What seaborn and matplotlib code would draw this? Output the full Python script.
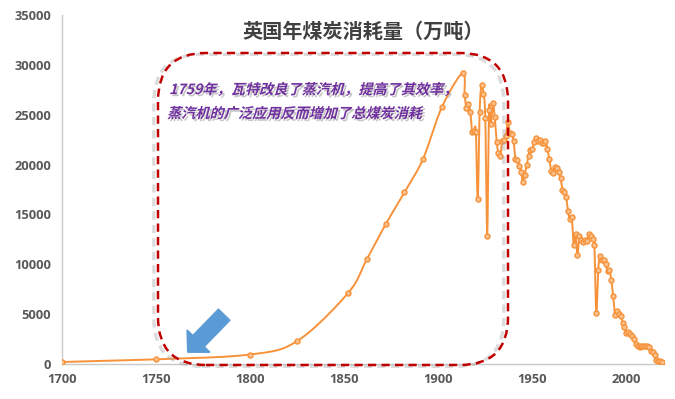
import numpy as np
import pandas as pd
import matplotlib
matplotlib.use("Agg")
import matplotlib.pyplot as plt
import seaborn as sns
from matplotlib.patches import FancyBboxPatch, FancyArrow
from matplotlib.transforms import IdentityTransform, Affine2D
from matplotlib.patheffects import AbstractPathEffect, SimplePatchShadow, SimpleLineShadow, Normal

# ---------------- data (万吨) ----------------
years_early = [1700, 1750, 1800, 1825, 1852, 1862, 1872, 1882, 1892, 1902]
values_early = [200, 470, 950, 2300, 7100, 10500, 14000, 17200, 20600, 25800]

years_annual = list(range(1913, 2020))
values_annual = [
    29200, 27000, 25700, 26100, 25300, 23300, 23400, 23300, 16500, 25300,  # 1913-1922
    28000, 27100, 24700, 12800, 25500, 24100, 26200, 24800, 22300, 21200,  # 1923-1932
    20900, 22400, 22500, 22900, 24300, 23200, 23100, 22400, 20600, 20500,  # 1933-1942
    19900, 19300, 18300, 19000, 20000, 20900, 21500, 21600, 22300, 22700,  # 1943-1952
    22400, 22500, 22200, 22200, 22400, 21600, 20600, 19400, 19200, 19800,  # 1953-1962
    19700, 19300, 18700, 17500, 17200, 16700, 15300, 14500, 14700, 11900,  # 1963-1972
    13000, 10900, 12800, 12400, 12200, 12400, 12300, 13000, 12800, 12500,  # 1973-1982
    11900, 5100, 9400, 10800, 10400, 10400, 10000, 9300, 9400, 8400,       # 1983-1992
    6800, 4900, 5300, 5000, 4800, 4100, 3700, 3100, 3200, 3000,            # 1993-2002
    2800, 2500, 2000, 1800, 1700, 1800, 1800, 1800, 1800, 1700,            # 2003-2012
    1300, 1200, 900, 400, 300, 260, 220,                                   # 2013-2019
]

x_ticks = [1700, 1750, 1800, 1850, 1900, 1950, 2000]
y_ticks = [0, 5000, 10000, 15000, 20000, 25000, 30000, 35000]

title_text = "英国年煤炭消耗量（万吨）"
note_line1 = "1759年，瓦特改良了蒸汽机，提高了其效率，"
note_line2 = "蒸汽机的广泛应用反而增加了总煤炭消耗"

years = np.array(years_early + years_annual, dtype=float)
values = np.array(values_early + values_annual, dtype=float)
df = pd.DataFrame({"year": years, "value": values})


# Excel-like smoothed line (Bezier through the points)
def smooth_curve(x, y, n=12):
    px, py = [], []
    N = len(x)
    for i in range(N - 1):
        x0, y0 = (x[i - 1], y[i - 1]) if i > 0 else (x[i], y[i])
        x1, y1 = x[i], y[i]
        x2, y2 = x[i + 1], y[i + 1]
        x3, y3 = (x[i + 2], y[i + 2]) if i + 2 < N else (x2, y2)
        c1x, c1y = x1 + (x2 - x0) / 6, y1 + (y2 - y0) / 6
        c2x, c2y = x2 - (x3 - x1) / 6, y2 - (y3 - y1) / 6
        t = np.linspace(0, 1, n, endpoint=(i == N - 2))
        b0, b1, b2, b3 = (1 - t) ** 3, 3 * (1 - t) ** 2 * t, 3 * (1 - t) * t ** 2, t ** 3
        px.extend(b0 * x1 + b1 * c1x + b2 * c2x + b3 * x2)
        py.extend(b0 * y1 + b1 * c1y + b2 * c2y + b3 * y2)
    return np.array(px), np.array(py)


sx, sy = smooth_curve(df["year"].values, df["value"].values)
curve = pd.DataFrame({"year": sx, "value": sy})

# ---------------- style ----------------
sns.set_theme(style="white")
plt.rcParams["font.family"] = ["Open Sans", "Noto Sans CJK SC", "DejaVu Sans"]

W, H = 675, 399
fig = plt.figure(figsize=(W / 100, H / 100), dpi=100)
fig.patch.set_facecolor("white")
ax = fig.add_axes([62 / W, 1 - 364 / H, (664 - 62) / W, (364 - 15) / H])
ax.set_facecolor("white")

line_color = "#F7923A"
sns.lineplot(data=curve, x="year", y="value", sort=False, estimator=None,
             color=line_color, linewidth=1.4, ax=ax, zorder=2)
sns.scatterplot(data=df, x="year", y="value", marker="o", s=13,
                color="#FBC08A", edgecolor=line_color, linewidth=1.0, ax=ax, zorder=3)

ax.set_xlim(1700, 2020)
ax.set_ylim(0, 35000)
ax.set_xticks(x_ticks)
ax.set_yticks(y_ticks)
ax.set_xticklabels([str(v) for v in x_ticks])
ax.set_yticklabels([str(v) for v in y_ticks])
ax.set_xlabel("")
ax.set_ylabel("")
for s in ["top", "right"]:
    ax.spines[s].set_visible(False)
for s in ["left", "bottom"]:
    ax.spines[s].set_color("#C8C8C8")
    ax.spines[s].set_linewidth(1.0)
ax.tick_params(axis="both", length=0, labelsize=9.3, labelcolor="#595959")
ax.tick_params(axis="y", pad=8)
ax.tick_params(axis="x", pad=6.5)
for lab in ax.get_xticklabels() + ax.get_yticklabels():
    lab.set_fontweight("bold")
ax.grid(False)

# title
fig.text(363 / W, 1 - 31 / H, title_text, ha="center", va="center",
         fontsize=14.5, fontweight="bold", color="#404040",
         family=["Noto Sans CJK SC", "DejaVu Sans"])

# dashed rounded rectangle
rect = FancyBboxPatch((158, H - 365), 508 - 158, 365 - 53,
                      boxstyle="round,pad=0,rounding_size=48",
                      transform=IdentityTransform(), fill=False,
                      edgecolor="#C00000", linewidth=1.8,
                      linestyle=(0, (3.3, 2.1)), zorder=5)
rect.set_path_effects([SimpleLineShadow(offset=(-3, -1), shadow_color="#9A9A9A", alpha=0.35, linewidth=2.4),
                       Normal()])
fig.add_artist(rect)

# blue arrow
arrow = FancyArrow(224.2, H - 314.7, -36.5, -37.5, width=16, head_width=32,
                   head_length=15.5, length_includes_head=True,
                   color="#5B9BD5", transform=IdentityTransform(), zorder=6)
fig.add_artist(arrow)


# synthesized italic for CJK text (keeps text as real text)
class Skewed(AbstractPathEffect):
    def __init__(self, angle, effects):
        super().__init__()
        self.angle = angle
        self.effects = effects

    def draw_path(self, renderer, gc, tpath, affine, rgbFace=None):
        x0, y0 = affine.transform((0, 0))
        aff = affine + Affine2D().translate(-x0, -y0).skew_deg(self.angle, 0).translate(x0, y0)
        for e in self.effects:
            e.draw_path(renderer, gc, tpath, aff, rgbFace)


note_effects = [Skewed(14, [SimplePatchShadow(offset=(1.5, -1.5), shadow_rgbFace="#808080", alpha=0.45),
                            Normal()])]
for txt, xx, yy in [(note_line1, 169, 90), (note_line2, 167, 114)]:
    t = fig.text(xx / W, 1 - yy / H, txt, ha="left", va="center", fontsize=10.2,
                 fontweight="bold", color="#7030A0",
                 family=["Noto Sans CJK SC", "DejaVu Sans"], zorder=7)
    t.set_path_effects(note_effects)

fig.savefig("out.png", dpi=100, facecolor="white")
